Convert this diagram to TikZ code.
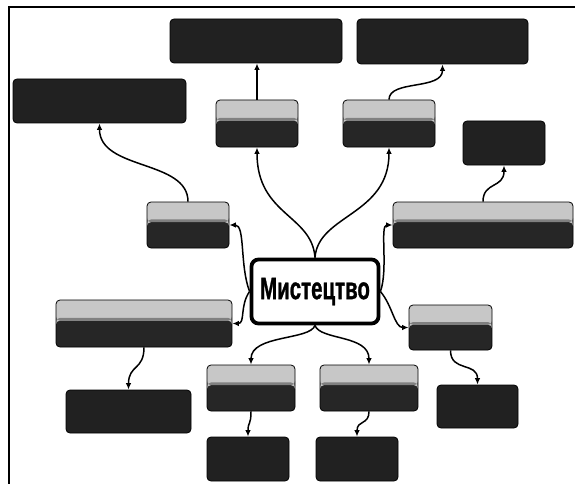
\documentclass[tikz,border=0pt]{standalone}
\usepackage{fontspec}
\setmainfont{Liberation Sans}
\usetikzlibrary{arrows.meta,calc}
\begin{document}
\begin{tikzpicture}[x=1pt,y=-1pt,
  darkbox/.style={draw=black, line width=0.8pt, fill=black!87, rounded corners=4pt, inner sep=0pt},
  gradbx/.style={draw=black, line width=0.8pt, fill=black!22, rounded corners=4pt, inner sep=0pt,
    path picture={\fill[black!85] ($(path picture bounding box.south west)!0.56!(path picture bounding box.north west)$) rectangle (path picture bounding box.south east);
      \fill[black!50] ($(path picture bounding box.south west)!0.56!(path picture bounding box.north west)$) rectangle ($(path picture bounding box.south east)!0.62!(path picture bounding box.north east)$);}},
  mainbox/.style={draw=black, line width=3.8pt, fill=white, rounded corners=7pt, inner sep=0pt},
  link/.style={line width=1.5pt, -{Latex[length=6.5pt,width=5.5pt]}}]
\useasboundingbox (0,0) rectangle (575,484);
\draw[line width=1.6pt] (9,484) -- (9,7) -- (575,7);
% boxes
\node[darkbox, minimum width=172pt, minimum height=44pt] (b1) at (256,41) {};
\node[darkbox, minimum width=171pt, minimum height=45pt] (b2) at (442.5,41.5) {};
\node[darkbox, minimum width=173pt, minimum height=44pt] (b3) at (99.5,101) {};
\node[gradbx, minimum width=82pt, minimum height=47pt] (b4) at (257,123.5) {};
\node[gradbx, minimum width=92pt, minimum height=47pt] (b5) at (389,123.5) {};
\node[darkbox, minimum width=82pt, minimum height=44pt] (b6) at (504,143) {};
\node[gradbx, minimum width=82pt, minimum height=46pt] (b7) at (188,225) {};
\node[gradbx, minimum width=180pt, minimum height=46pt] (b8) at (483,225) {};
\node[mainbox, minimum width=127pt, minimum height=64pt] (c) at (315,291.5) {\scalebox{0.66}[1]{\fontsize{31}{31}\selectfont\bfseries\addfontfeature{FakeBold=1.2}Мистецтво}};
\node[gradbx, minimum width=176pt, minimum height=47pt] (b10) at (144,323.5) {};
\node[gradbx, minimum width=83pt, minimum height=45pt] (b11) at (450.5,327.5) {};
\node[gradbx, minimum width=88pt, minimum height=46pt] (b12) at (251,388) {};
\node[gradbx, minimum width=98pt, minimum height=46pt] (b13) at (369,388) {};
\node[darkbox, minimum width=125pt, minimum height=43pt] (b14) at (128.5,411.5) {};
\node[darkbox, minimum width=81pt, minimum height=43pt] (b15) at (477.5,406.5) {};
\node[darkbox, minimum width=82pt, minimum height=44pt] (b16) at (248,459) {};
\node[darkbox, minimum width=82pt, minimum height=44pt] (b17) at (357,459) {};
% connectors
\draw[link] (c.north) .. controls +(-3,-43) and +(0,68) .. (b4.south);
\draw[link] (c.north) .. controls +(3,-43) and +(0,68) .. (b5.south);
\draw[link] (b4.north) -- (b4.north |- b1.south);
\draw[link] (b5.north) .. controls +(0,-20) and +(0,26) .. (b2.south);
\draw[link] (b7.north) .. controls +(0,-42) and +(0,47) .. (b3.south);
\draw[link] (c.west) .. controls +(-10,-26) and +(16,0) .. (b7.east);
\draw[link] (c.west) .. controls +(-10,14) and +(13,0) .. (b10.east);
\draw[link] (c.east) .. controls +(8,-22) and +(-13,0) .. (b8.west);
\draw[link] (c.east) .. controls +(12,14) and +(-14,0) .. (b11.west);
\draw[link] (c.south) .. controls +(-5,15) and +(0,-30) .. (b12.north);
\draw[link] (c.south) .. controls +(5,15) and +(0,-30) .. (b13.north);
\draw[link] (b12.south) .. controls +(0,14) and +(0,-15) .. (b16.north);
\draw[link] (b13.south) .. controls +(0,14) and +(0,-17) .. (b17.north);
\draw[link] (b10.south) .. controls +(0,23) and +(0,-25) .. (b14.north);
\draw[link] (b11.south) .. controls +(0,22) and +(0,-23) .. (b15.north);
\draw[link] (b8.north) .. controls +(0,-20) and +(0,23) .. (b6.south);
\end{tikzpicture}
\end{document}
